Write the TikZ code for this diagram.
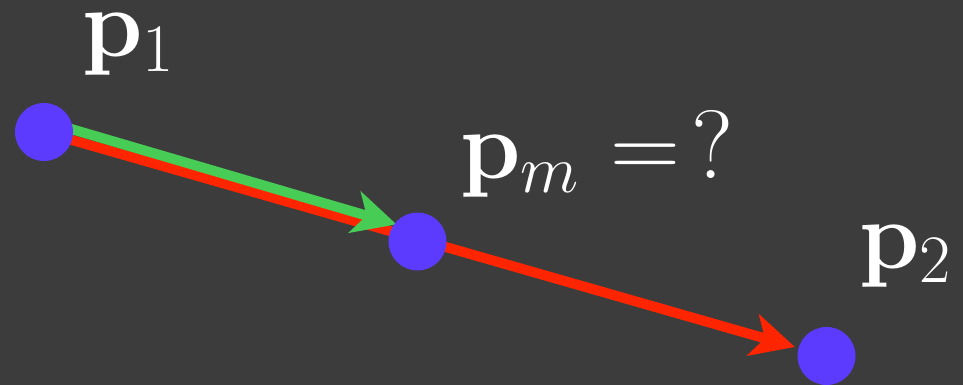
\RequirePackage{fix-cm}
\documentclass[tikz,border=0pt]{standalone}
\usepackage{xcolor}
\usepackage{tikz}
\usetikzlibrary{arrows.meta,backgrounds}
\definecolor{BgGray}{HTML}{3C3C3C}
\definecolor{Point}{HTML}{5D3BFE}
\definecolor{Green}{HTML}{47CC55}
\definecolor{Red}{HTML}{FF2500}

\begin{document}
\begin{tikzpicture}[
  x=1pt, y=-1pt,
  point/.style={circle, fill=Point, minimum size=58pt, inner sep=0pt},
  label/.style={anchor=base west, inner sep=0pt, text=white, font=\fontsize{97}{110}\selectfont},
  arrow/.style={line width=10pt, -{Stealth[length=44pt, width=44pt, inset=13pt, line width=0pt]}}
]

\node[point] (p1) at (44,132) {};
\node[point] (pm) at (417.5,241.5) {};
\node[point] (p2) at (826.5,356) {};

\node[label] (l1) at (82,57) {$\mathbf{p}_1$};
\node[label] (lm) at (460,178) {$\mathbf{p}_m$\hspace{31pt}=\hspace{11pt}?};
\node[label] (l2) at (859,268) {$\mathbf{p}_2$};

\begin{scope}[on background layer]
\fill[BgGray] (0,0) rectangle (963,385);
\draw[arrow, draw=Red, fill=Red, shorten >=33pt] (p1.center) -- (p2.center);
\draw[arrow, draw=Green, fill=Green, shorten >=25pt] ([shift={(2.9pt,10.1pt)}]p1.center) -- ([shift={(2.9pt,10.1pt)}]pm.center);
\end{scope}
\end{tikzpicture}
\end{document}
